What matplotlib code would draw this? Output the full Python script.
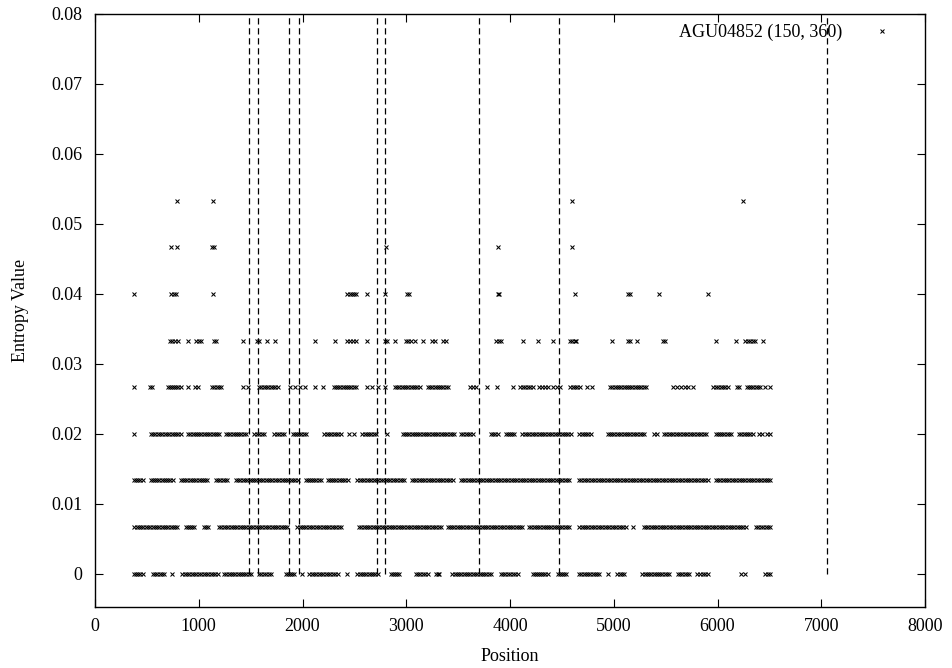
import numpy as np
import matplotlib
matplotlib.use("Agg")
import matplotlib.pyplot as plt

# ---- data ----
levels = [0.0, 1/150, 2/150, 3/150, 4/150, 5/150, 6/150, 7/150, 8/150]

# dense runs of points per level (start, end), points spaced STEP apart
STEP = 22
runs_0 = [(378, 458), (555, 667), (843, 1181), (1245, 1502), (1582, 1695),
          (1840, 1920), (2064, 2338), (2530, 2723), (2850, 2930), (3090, 3205),
          (3285, 3318), (3445, 3815), (3910, 4073), (4217, 4362), (4458, 4538),
          (4667, 4860), (5036, 5100), (5277, 5534), (5615, 5727), (5807, 5904),
          (6460, 6510)]
runs_1 = [(380, 795), (875, 955), (1050, 1085), (1197, 1855), (1950, 2370),
          (2545, 3333), (3398, 4120), (4185, 4570), (4667, 5115), (5290, 6272),
          (6370, 6510)]
runs_2 = [(380, 458), (538, 747), (827, 1084), (1164, 1277), (1357, 1952),
          (2032, 2176), (2241, 2434), (2530, 2980), (3054, 3446), (3526, 4571),
          (4667, 5904), (5984, 6510)]
runs_3 = [(538, 827), (898, 1197), (1261, 1454), (1534, 1631), (1727, 1824),
          (1904, 2032), (2209, 2369), (2578, 2707), (2964, 3462), (3526, 3639),
          (3815, 3880), (3960, 4040), (4120, 4586), (4667, 4779), (4940, 5293),
          (5486, 5888), (5984, 6129), (6209, 6338)]
runs_4 = [(700, 800), (1130, 1215), (1580, 1760), (2300, 2515), (2890, 3130),
          (3210, 3400), (4100, 4220), (4580, 4670), (4965, 5310), (5960, 6100),
          (6280, 6410)]
runs_5 = []
runs_6 = []
runs_7 = []
runs_8 = []

# isolated points per level
pts_0 = [739, 1992, 2426, 4948, 6230, 6265]
pts_1 = [5189]
pts_2 = []
pts_3 = [376, 2450, 2500, 2811, 5389, 5420, 6400, 6430, 6474, 6510]
pts_4 = [376, 530, 545, 830, 900, 965, 995, 1430, 1470, 1880, 1930, 1975, 2020,
         2120, 2200, 2620, 2670, 2731, 2795, 3615, 3640, 3670, 3775, 3872, 4032,
         4275, 4310, 4340, 4370, 4410, 4450, 4482, 4739, 4787, 5575, 5610, 5650,
         5690, 5720, 5767, 6190, 6210, 6458, 6510]
pts_5 = [720, 745, 770, 800, 900, 970, 1000, 1025, 1150, 1165, 1423, 1565, 1585,
         1655, 1735, 2120, 2313, 2430, 2460, 2490, 2520, 2619, 2795, 2810, 2892,
         3000, 3020, 3050, 3080, 3165, 3245, 3275, 3350, 3385, 3865, 3890, 3910,
         4128, 4273, 4411, 4580, 4600, 4625, 4640, 4980, 5140, 5160, 5221, 5475,
         5495, 5986, 6179, 6265, 6290, 6315, 6340, 6360, 6442]
pts_6 = [380, 730, 760, 780, 1140, 2430, 2455, 2475, 2500, 2520, 2620, 2795,
         3005, 3025, 3880, 3895, 4625, 5140, 5155, 5435, 5910]
pts_7 = [735, 790, 1130, 1150, 2800, 3885, 4600]
pts_8 = [795, 1140, 4595, 6243]

vlines = [1485, 1570, 1870, 1962, 2720, 2797, 3700, 4474, 7058]

xticks = [0, 1000, 2000, 3000, 4000, 5000, 6000, 7000, 8000]
yticks = [0, 0.01, 0.02, 0.03, 0.04, 0.05, 0.06, 0.07, 0.08]
ytick_labels = ["0", "0.01", "0.02", "0.03", "0.04", "0.05", "0.06", "0.07", "0.08"]
legend_label = "AGU04852 (150, 360)"

all_runs = [runs_0, runs_1, runs_2, runs_3, runs_4, runs_5, runs_6, runs_7, runs_8]
all_pts = [pts_0, pts_1, pts_2, pts_3, pts_4, pts_5, pts_6, pts_7, pts_8]

xs, ys = [], []
for lev, runs, pts in zip(levels, all_runs, all_pts):
    for a, b in runs:
        n = max(int(round((b - a) / STEP)), 1)
        seg = np.linspace(a, b, n + 1)
        xs.extend(seg)
        ys.extend([lev] * len(seg))
    xs.extend(pts)
    ys.extend([lev] * len(pts))

plt.rcParams['font.family'] = ['Liberation Serif', 'DejaVu Serif']
plt.rcParams['font.size'] = 13

fig = plt.figure(figsize=(9.52, 6.68), dpi=100)
ax = fig.add_axes([95/952, 1 - 607/668, 830/952, 593/668])

for v in vlines:
    ax.plot([v, v], [0, 0.08], color='black', lw=0.9, linestyle=(0, (5, 3)))

ax.plot(xs, ys, linestyle='none', marker='x', ms=3.4, mew=0.75, color='black',
        label=legend_label)

ax.set_xlim(0, 8000)
ax.set_ylim(-0.00475, 0.08)
ax.set_xticks(xticks)
ax.set_yticks(yticks)
ax.set_yticklabels(ytick_labels)
ax.tick_params(direction='in', top=True, right=True, length=6, width=0.8)
ax.tick_params(axis='y', pad=9)
ax.tick_params(axis='x', pad=8)
for s in ax.spines.values():
    s.set_linewidth(1.0)

ax.set_xlabel("Position", labelpad=9)
ax.set_ylabel("Entropy Value", labelpad=16)

leg = ax.legend(loc='upper right', frameon=False, markerfirst=False,
                handlelength=1.5, handletextpad=1.45, borderaxespad=0.15,
                bbox_to_anchor=(0.976, 1.0), markerscale=1.0)

fig.savefig("out.png", dpi=100)
